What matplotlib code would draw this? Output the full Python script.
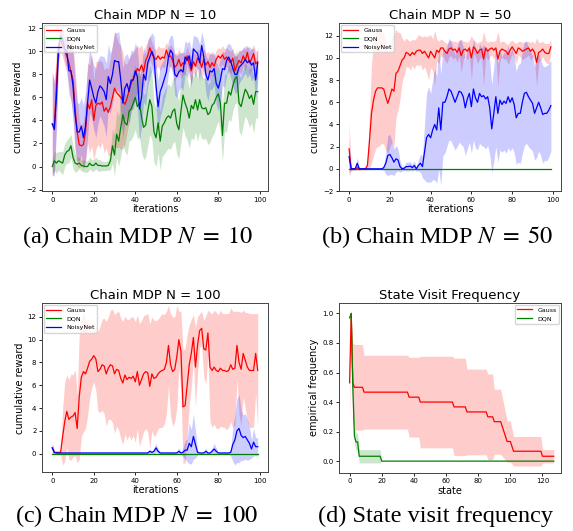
import numpy as np
import matplotlib
matplotlib.use("Agg")
import matplotlib.pyplot as plt

plt.rcParams['mathtext.fontset'] = 'stix'

it = np.arange(100)

# ---- (a) Chain MDP N = 10
gauss_a = [3.7, 3.5, 7.0, 10.5, 11.0, 10.5, 10.0, 9.6, 9.0, 8.2,
           7.5, 5.0, 3.0, 1.9, 1.8, 1.9, 3.0, 5.5, 5.0, 5.8,
           4.0, 5.3, 5.5, 5.4, 5.6, 4.8, 5.1, 4.7, 5.2, 6.0,
           6.8, 6.4, 6.2, 6.0, 5.7, 5.4, 5.9, 6.6, 7.2, 7.6,
           8.0, 8.5, 8.3, 8.8, 8.2, 9.2, 9.6, 10.3, 9.8, 9.4,
           9.3, 9.6, 9.3, 9.5, 9.4, 10.1, 9.5, 9.6, 9.2, 8.6,
           8.8, 9.3, 8.7, 9.0, 8.9, 9.6, 8.9, 8.3, 9.1, 8.7,
           9.4, 9.2, 8.6, 9.3, 8.8, 9.1, 8.6, 9.0, 8.7, 9.3,
           9.6, 9.4, 9.7, 9.3, 9.5, 9.2, 9.0, 9.4, 8.3, 8.8,
           9.2, 9.0, 9.6, 9.2, 9.9, 9.0, 9.3, 9.8, 8.9, 9.1]
gauss_a_sd = [4.5, 4.0, 3.0, 1.2, 1.0, 1.0, 1.2, 1.5, 2.0, 2.5,
              3.0, 3.5, 3.0, 2.0, 1.8, 2.0, 2.5, 3.5, 3.8, 4.0,
              3.5, 3.8, 3.6, 3.8, 3.5, 3.6, 3.5, 3.8, 4.2, 4.5,
              5.0, 4.8, 4.5, 4.5, 4.2, 3.5, 3.0, 2.8, 2.5, 2.3,
              2.2, 2.0, 2.0, 1.8, 1.5, 1.3, 1.2, 1.0, 1.0, 0.9,
              0.8, 0.9, 1.0, 0.8, 0.9, 0.7, 0.8, 1.0, 1.1, 1.2,
              1.0, 0.9, 1.1, 1.0, 0.9, 0.8, 1.0, 1.2, 0.9, 1.0,
              0.8, 0.9, 1.1, 0.9, 1.0, 0.9, 1.1, 1.0, 0.9, 0.8,
              0.7, 0.8, 0.8, 0.9, 0.8, 0.9, 1.0, 0.9, 1.2, 1.0,
              0.9, 1.0, 0.8, 0.9, 0.7, 1.0, 0.9, 0.8, 1.1, 1.0]
dqn_a = [0.0, 0.5, 0.3, 0.5, 0.4, 0.3, 1.0, 1.3, 1.4, 1.8,
         0.8, 0.3, 0.2, 0.3, 0.1, 0.05, 0.0, 0.0, 0.3, 0.1,
         0.1, 0.3, 0.1, 0.1, 0.05, 0.05, 0.05, 0.1, 0.5, 1.8,
         1.0, 2.8, 2.2, 3.4, 4.5, 3.8, 3.6, 4.8, 5.0, 5.5,
         6.0, 5.2, 5.5, 4.3, 3.4, 3.6, 4.8, 5.8, 5.2, 3.0,
         2.5, 3.8, 2.2, 3.5, 3.8, 4.2, 4.4, 4.2, 4.8, 5.0,
         3.7, 3.2, 4.8, 6.2, 5.5, 5.0, 4.2, 5.3, 5.0, 5.8,
         4.9, 5.8, 5.1, 5.0, 5.1, 4.5, 4.7, 5.3, 5.5, 6.0,
         6.3, 5.5, 2.7, 5.5, 5.5, 6.5, 6.2, 7.0, 7.6, 7.8,
         5.5, 5.2, 6.0, 6.7, 6.4, 5.9, 6.2, 5.4, 6.5, 6.5]
dqn_a_sd = [0.6, 0.8, 0.9, 0.8, 0.9, 1.0, 1.0, 1.0, 1.1, 1.0,
            1.0, 0.8, 0.6, 0.5, 0.5, 0.5, 0.5, 0.5, 0.5, 0.5,
            0.5, 0.5, 0.5, 0.5, 0.4, 0.4, 0.4, 0.4, 0.8, 1.5,
            1.8, 2.0, 2.2, 2.5, 2.5, 2.5, 2.6, 2.6, 2.7, 2.8,
            2.8, 2.8, 2.9, 3.0, 2.8, 2.8, 3.0, 3.0, 2.9, 2.6,
            2.5, 2.6, 2.5, 2.6, 2.7, 2.8, 2.8, 2.7, 2.8, 2.8,
            2.6, 2.5, 2.7, 2.8, 2.8, 2.7, 2.6, 2.8, 2.7, 2.8,
            2.7, 2.8, 2.7, 2.6, 2.7, 2.6, 2.6, 2.7, 2.6, 2.5,
            2.4, 2.5, 2.3, 2.5, 2.5, 2.4, 2.3, 2.2, 2.2, 2.2,
            2.4, 2.5, 2.4, 2.3, 2.4, 2.5, 2.4, 2.5, 2.3, 2.3]
noisy_a = [3.7, 3.2, 6.0, 10.0, 11.3, 11.0, 10.2, 10.0, 8.3, 8.3,
           7.0, 4.5, 3.0, 3.0, 3.5, 2.5, 3.5, 5.5, 7.5, 6.8,
           6.0, 5.5, 6.5, 7.0, 6.8, 6.5, 5.8, 7.8, 7.2, 8.0,
           9.2, 9.1, 9.1, 7.5, 5.5, 6.8, 7.2, 6.5, 7.5, 7.5,
           8.3, 7.8, 5.0, 6.0, 8.0, 7.5, 9.0, 9.5, 10.0, 9.5,
           7.0, 5.2, 6.5, 7.0, 7.6, 8.2, 9.5, 10.1, 9.8, 8.0,
           7.8, 8.2, 8.4, 8.2, 9.5, 9.2, 9.6, 8.5, 10.2, 10.0,
           9.8, 9.0, 10.5, 9.5, 8.0, 7.5, 8.3, 8.2, 8.5, 7.2,
           6.8, 7.5, 8.5, 8.4, 9.2, 9.5, 9.1, 8.5, 8.0, 8.0,
           8.6, 8.8, 9.0, 9.3, 9.0, 9.2, 8.8, 9.0, 7.5, 9.0]
noisy_a_sd = [4.5, 4.0, 3.0, 1.0, 0.8, 0.8, 1.0, 1.5, 2.0, 2.5,
              3.0, 3.0, 2.5, 2.5, 2.5, 2.8, 3.0, 3.0, 2.8, 2.6,
              2.8, 3.0, 2.8, 2.6, 2.8, 3.0, 3.2, 2.8, 2.6, 2.5,
              2.4, 2.5, 2.6, 2.8, 3.0, 2.8, 2.6, 2.8, 2.6, 2.5,
              2.4, 2.5, 2.8, 2.6, 2.4, 2.2, 2.0, 1.8, 1.6, 1.8,
              2.0, 2.2, 2.2, 2.0, 1.8, 1.6, 1.4, 1.3, 1.5, 1.8,
              1.8, 1.6, 1.5, 1.6, 1.4, 1.5, 1.3, 1.6, 1.2, 1.3,
              1.4, 1.6, 1.2, 1.4, 1.6, 1.8, 1.6, 1.5, 1.4, 1.8,
              2.0, 1.8, 1.5, 1.5, 1.3, 1.2, 1.4, 1.5, 1.6, 1.6,
              1.4, 1.3, 1.2, 1.2, 1.3, 1.2, 1.4, 1.3, 1.6, 1.3]

# ---- (b) Chain MDP N = 50
gauss_b = [1.8, 0.0, 0.0, 0.0, 0.1, 0.0, 0.0, 0.0, 0.0, 0.3,
           2.5, 5.0, 6.2, 7.0, 7.3, 7.3, 7.3, 7.2, 6.5, 5.9,
           6.5, 7.2, 7.0, 8.6, 8.8, 9.3, 9.8, 10.0, 10.5, 10.4,
           10.2, 10.5, 10.3, 10.6, 10.7, 10.7, 10.4, 10.6, 10.3, 10.0,
           10.6, 10.3, 10.0, 10.7, 10.5, 10.9, 10.9, 10.6, 10.4, 10.8,
           10.9, 10.7, 10.8, 10.5, 10.9, 10.2, 10.7, 10.8, 10.6, 10.9,
           10.0, 11.0, 10.8, 10.4, 10.7, 10.8, 9.9, 10.9, 10.6, 10.8,
           10.9, 10.7, 10.9, 9.9, 10.6, 10.8, 10.7, 10.6, 10.3, 10.7,
           11.0, 10.7, 10.4, 10.9, 10.8, 10.6, 10.7, 10.8, 10.9, 10.6,
           10.8, 10.5, 9.6, 10.5, 10.6, 10.8, 10.5, 10.4, 10.4, 11.0]
gauss_b_sd = [2.5, 0.2, 0.1, 0.1, 0.2, 0.1, 0.1, 0.1, 0.1, 0.4,
              2.5, 4.5, 5.0, 5.2, 5.3, 5.2, 5.0, 5.0, 4.8, 4.5,
              4.5, 4.8, 5.0, 4.0, 3.5, 3.0, 2.0, 1.5, 1.3, 1.2,
              1.3, 1.2, 1.3, 1.2, 1.4, 1.3, 1.5, 1.4, 1.6, 2.0,
              1.5, 1.4, 2.5, 1.0, 1.0, 0.8, 0.7, 0.8, 0.9, 0.7,
              0.7, 0.8, 0.7, 0.9, 0.7, 1.5, 0.8, 0.7, 0.8, 0.7,
              2.0, 0.6, 0.7, 0.9, 0.8, 0.7, 2.5, 0.7, 0.8, 0.7,
              0.6, 0.8, 0.7, 2.5, 0.8, 0.7, 0.8, 0.7, 0.9, 0.8,
              0.6, 0.7, 0.9, 0.6, 0.7, 0.8, 0.7, 0.7, 0.6, 0.8,
              0.7, 0.8, 2.2, 0.9, 0.8, 0.7, 0.8, 0.9, 0.9, 0.7]
dqn_b = [0.0] * 100
dqn_b_sd = [0.0] * 100
noisy_b = [1.1, 0.0, 0.0, 0.0, 0.5, 0.0, 0.0, 0.0, 0.0, 0.0,
           0.0, 0.0, 0.0, 0.0, 0.0, 0.0, 0.0, 0.1, 0.5, 1.2,
           1.3, 1.0, 0.6, 0.9, 0.8, 0.2, 0.0, 0.05, 0.2, 0.2,
           0.25, 0.1, 0.3, 0.0, 0.3, 0.5, 0.2, 1.5, 2.8, 3.1,
           2.8, 3.5, 4.0, 3.5, 5.5, 3.5, 6.0, 6.0, 6.5, 7.2,
           7.0, 6.5, 6.0, 6.5, 7.0, 6.9, 6.5, 5.5, 6.3, 6.8,
           5.6, 7.2, 6.4, 6.0, 6.8, 6.5, 6.6, 6.3, 6.5, 5.5,
           3.6, 5.0, 6.5, 5.0, 6.2, 5.8, 6.1, 5.9, 6.5, 6.0,
           6.4, 5.8, 4.6, 5.0, 5.0, 6.0, 6.8, 6.9, 6.5, 6.2,
           5.9, 5.0, 5.5, 6.0, 5.5, 4.9, 5.0, 5.0, 5.3, 5.7]
noisy_b_sd = [1.5, 0.1, 0.1, 0.1, 0.5, 0.1, 0.05, 0.05, 0.05, 0.05,
              0.05, 0.05, 0.05, 0.05, 0.05, 0.05, 0.1, 0.2, 1.0, 1.8,
              1.8, 1.5, 1.2, 1.2, 1.0, 0.5, 0.2, 0.2, 0.4, 0.4,
              0.4, 0.3, 0.4, 0.2, 0.5, 0.8, 1.0, 2.5, 4.0, 4.3,
              4.0, 4.5, 5.0, 4.8, 5.5, 5.0, 4.8, 4.6, 4.5, 4.6,
              4.5, 4.4, 4.3, 4.5, 4.6, 4.7, 4.5, 4.3, 4.5, 4.4,
              4.2, 4.6, 4.5, 4.3, 4.5, 4.4, 4.6, 4.5, 4.4, 4.2,
              4.0, 4.3, 4.5, 4.4, 4.5, 4.3, 4.4, 4.5, 4.6, 4.4,
              4.5, 4.3, 4.2, 4.4, 4.5, 4.6, 4.7, 4.6, 4.5, 4.4,
              4.3, 4.2, 4.5, 4.4, 4.3, 4.4, 4.2, 4.3, 4.2, 4.1]

# ---- (c) Chain MDP N = 100
gauss_c = [0.5, 0.1, 0.1, 0.1, 0.1, 1.5, 2.8, 3.7, 3.0, 3.2,
           3.3, 3.6, 2.2, 5.0, 6.7, 7.2, 7.0, 7.5, 8.1, 8.3,
           8.6, 8.3, 7.2, 7.4, 7.8, 7.7, 7.0, 7.5, 7.8, 7.7,
           7.0, 7.4, 7.3, 6.6, 6.2, 6.9, 6.5, 6.7, 6.6, 6.8,
           6.3, 7.2, 6.0, 6.5, 7.0, 7.2, 7.1, 5.9, 7.0, 6.6,
           6.7, 7.0, 7.2, 7.3, 7.4, 8.0, 9.5, 7.8, 7.2, 7.4,
           8.5, 10.0, 9.0, 4.1, 4.2, 6.0, 7.8, 8.8, 10.2, 7.6,
           9.5, 10.8, 11.0, 9.2, 9.1, 10.6, 7.6, 7.3, 7.6, 7.3,
           7.2, 7.5, 7.3, 7.3, 7.2, 7.3, 7.8, 7.4, 7.5, 9.5,
           8.0, 7.4, 8.8, 8.2, 7.6, 7.3, 7.3, 7.3, 8.8, 7.3]
gauss_c_sd = [0.4, 0.1, 0.1, 0.1, 0.2, 2.5, 3.5, 3.2, 3.5, 3.8,
              3.6, 3.8, 3.0, 5.5, 5.2, 5.3, 4.8, 4.2, 3.2, 2.5,
              2.3, 2.8, 3.5, 3.8, 4.0, 4.2, 4.6, 4.5, 4.8, 5.0,
              5.2, 5.0, 5.2, 5.3, 5.4, 5.2, 5.3, 5.1, 5.4, 5.2,
              5.3, 5.0, 5.4, 5.2, 5.1, 5.0, 5.2, 5.5, 5.0, 5.1,
              5.0, 4.8, 4.9, 5.0, 4.8, 4.5, 3.5, 4.5, 4.8, 4.6,
              4.5, 2.5, 3.5, 5.0, 5.0, 4.5, 3.5, 3.0, 2.0, 3.5,
              2.5, 1.5, 1.5, 2.5, 3.0, 2.0, 4.8, 5.0, 5.0, 5.1,
              5.0, 5.1, 5.0, 5.0, 5.1, 5.0, 5.0, 5.1, 5.0, 3.0,
              4.5, 5.0, 3.8, 4.2, 4.8, 5.0, 5.0, 5.0, 3.5, 5.0]
dqn_c = [0.0] * 100
dqn_c_sd = [0.0] * 100
noisy_c = [0.5, 0.1, 0.05, 0.05, 0.05, 0.05, 0.05, 0.05, 0.05, 0.05,
           0.05, 0.05, 0.05, 0.05, 0.05, 0.05, 0.05, 0.05, 0.05, 0.05,
           0.05, 0.05, 0.05, 0.05, 0.05, 0.05, 0.05, 0.05, 0.05, 0.05,
           0.05, 0.05, 0.05, 0.05, 0.05, 0.05, 0.05, 0.05, 0.05, 0.05,
           0.05, 0.05, 0.05, 0.05, 0.05, 0.05, 0.05, 0.2, 0.1, 0.2,
           0.5, 0.2, 0.05, 0.05, 0.05, 0.05, 0.05, 0.05, 0.05, 0.05,
           0.05, 0.2, 0.05, 0.1, 0.3, 0.3, 0.9, 0.6, 1.5, 0.8,
           0.1, 0.05, 0.05, 0.05, 0.2, 0.05, 0.05, 0.2, 0.4, 0.2,
           0.05, 0.05, 0.05, 0.05, 0.05, 0.05, 0.1, 0.8, 1.2, 2.0,
           2.2, 1.6, 1.4, 1.5, 1.2, 0.9, 0.4, 1.0, 0.6, 0.6]
noisy_c_sd = [0.5, 0.1, 0.05, 0.05, 0.05, 0.05, 0.05, 0.05, 0.05, 0.05,
              0.05, 0.05, 0.05, 0.05, 0.05, 0.05, 0.05, 0.05, 0.05, 0.05,
              0.05, 0.05, 0.05, 0.05, 0.05, 0.05, 0.05, 0.05, 0.05, 0.05,
              0.05, 0.05, 0.05, 0.05, 0.05, 0.05, 0.05, 0.05, 0.05, 0.05,
              0.05, 0.05, 0.05, 0.05, 0.05, 0.05, 0.05, 0.2, 0.1, 0.3,
              0.4, 0.2, 0.05, 0.05, 0.05, 0.05, 0.05, 0.05, 0.05, 0.05,
              0.05, 0.3, 0.1, 0.4, 0.8, 1.0, 1.8, 1.5, 2.0, 1.2,
              0.2, 0.05, 0.05, 0.05, 0.3, 0.05, 0.05, 0.3, 0.5, 0.3,
              0.05, 0.05, 0.05, 0.05, 0.05, 0.05, 0.3, 1.5, 2.2, 2.8,
              3.0, 2.2, 2.0, 2.0, 1.8, 1.4, 0.8, 1.2, 0.8, 0.8]

# ---- (d) State visit frequency (step values, start state of each step)
n_states = 128
gauss_d_start = [0, 1, 2, 3, 9, 37, 44, 65, 73, 86, 90, 95, 96, 97, 98, 101, 102, 120]
gauss_d_val = [0.53, 1.0, 0.53, 0.50, 0.467, 0.433, 0.40, 0.367, 0.333,
               0.30, 0.267, 0.233, 0.20, 0.167, 0.133, 0.10, 0.067, 0.033]
gauss_d_sd = [0.26, 0.02, 0.27, 0.29, 0.25, 0.27, 0.31, 0.33, 0.29,
              0.29, 0.22, 0.20, 0.18, 0.16, 0.14, 0.12, 0.10, 0.045]
dqn_d_start = [0, 1, 2, 3, 4, 6, 20]
dqn_d_val = [0.97, 1.0, 0.5, 0.17, 0.13, 0.033, 0.0]
dqn_d_sd = [0.03, 0.0, 0.1, 0.05, 0.06, 0.045, 0.0]


def expand(starts, vals):
    counts = np.diff(starts + [n_states])
    return np.repeat(vals, counts)


def band(ax, x, m, s, color, label):
    m = np.asarray(m)
    s = np.asarray(s)
    ax.plot(x, m, color=color, lw=0.9, label=label)
    ax.fill_between(x, m - s, m + s, color=color, alpha=0.2, lw=0)


def style(ax, title, xlabel, ylabel):
    ax.set_title(title, fontsize=9.5, pad=3)
    ax.set_xlabel(xlabel, fontsize=7, labelpad=1)
    ax.set_ylabel(ylabel, fontsize=7, labelpad=2)
    ax.tick_params(labelsize=5, length=2.5, width=0.6, pad=1.5)
    for sp in ax.spines.values():
        sp.set_linewidth(0.7)
        sp.set_color('#444444')


fig = plt.figure(figsize=(5.73, 5.31), dpi=100)

ax = fig.add_axes([0.0733, 0.6403, 0.3944, 0.3164])
band(ax, it, gauss_a, gauss_a_sd, 'r', 'Gauss')
band(ax, it, dqn_a, dqn_a_sd, 'g', 'DQN')
band(ax, it, noisy_a, noisy_a_sd, 'b', 'NoisyNet')
ax.set_ylim(-2.12, 12.45)
ax.set_xlim(-4.95, 103.95)
ax.set_yticks(range(-2, 13, 2))
style(ax, 'Chain MDP N = 10', 'iterations', 'cumulative reward')
ax.legend(loc='upper left', fontsize=4.5, handlelength=2.4, borderaxespad=0.3)

ax = fig.add_axes([0.5916, 0.6403, 0.3874, 0.3164])
band(ax, it, gauss_b, gauss_b_sd, 'r', 'Gauss')
band(ax, it, dqn_b, dqn_b_sd, 'g', 'DQN')
band(ax, it, noisy_b, noisy_b_sd, 'b', 'NoisyNet')
ax.set_ylim(-2.0, 13.15)
ax.set_xlim(-4.95, 103.95)
ax.set_yticks(range(-2, 13, 2))
style(ax, 'Chain MDP N = 50', 'iterations', 'cumulative reward')
ax.legend(loc='upper left', fontsize=4.5, handlelength=2.4, borderaxespad=0.3)

ax = fig.add_axes([0.0733, 0.1105, 0.3944, 0.3183])
band(ax, it, gauss_c, gauss_c_sd, 'r', 'Gauss')
band(ax, it, dqn_c, dqn_c_sd, 'g', 'DQN')
band(ax, it, noisy_c, noisy_c_sd, 'b', 'NoisyNet')
ax.set_ylim(-1.65, 13.2)
ax.set_xlim(-4.95, 103.95)
ax.set_yticks(range(0, 13, 2))
style(ax, 'Chain MDP N = 100', 'iterations', 'cumulative reward')
ax.legend(loc='upper left', fontsize=4.5, handlelength=2.4, borderaxespad=0.3)

ax = fig.add_axes([0.5916, 0.1096, 0.3874, 0.3202])
st = np.arange(n_states)
band(ax, st, expand(gauss_d_start, gauss_d_val), expand(gauss_d_start, gauss_d_sd), 'r', 'Gauss')
band(ax, st, expand(dqn_d_start, dqn_d_val), expand(dqn_d_start, dqn_d_sd), 'g', 'DQN')
ax.set_ylim(-0.079, 1.072)
ax.set_xlim(-6.6, 131.5)
style(ax, 'State Visit Frequency', 'state', 'empirical frequency')
ax.legend(loc='upper right', fontsize=4.5, handlelength=2.4, borderaxespad=0.3)

# captions
cap = dict(fontsize=17.5, family='Liberation Serif', ha='center', va='center')
fig.text(137 / 573, 1 - 237 / 531, r'(a) Chain MDP $N\;=\;10$', **cap)
fig.text(437 / 573, 1 - 237 / 531, r'(b) Chain MDP $N\;=\;50$', **cap)
fig.text(136 / 573, 1 - 516 / 531, r'(c) Chain MDP $N\;=\;100$', **cap)
fig.text(436 / 573, 1 - 516 / 531, '(d) State visit frequency', **cap)

fig.savefig('out.png', dpi=100)
